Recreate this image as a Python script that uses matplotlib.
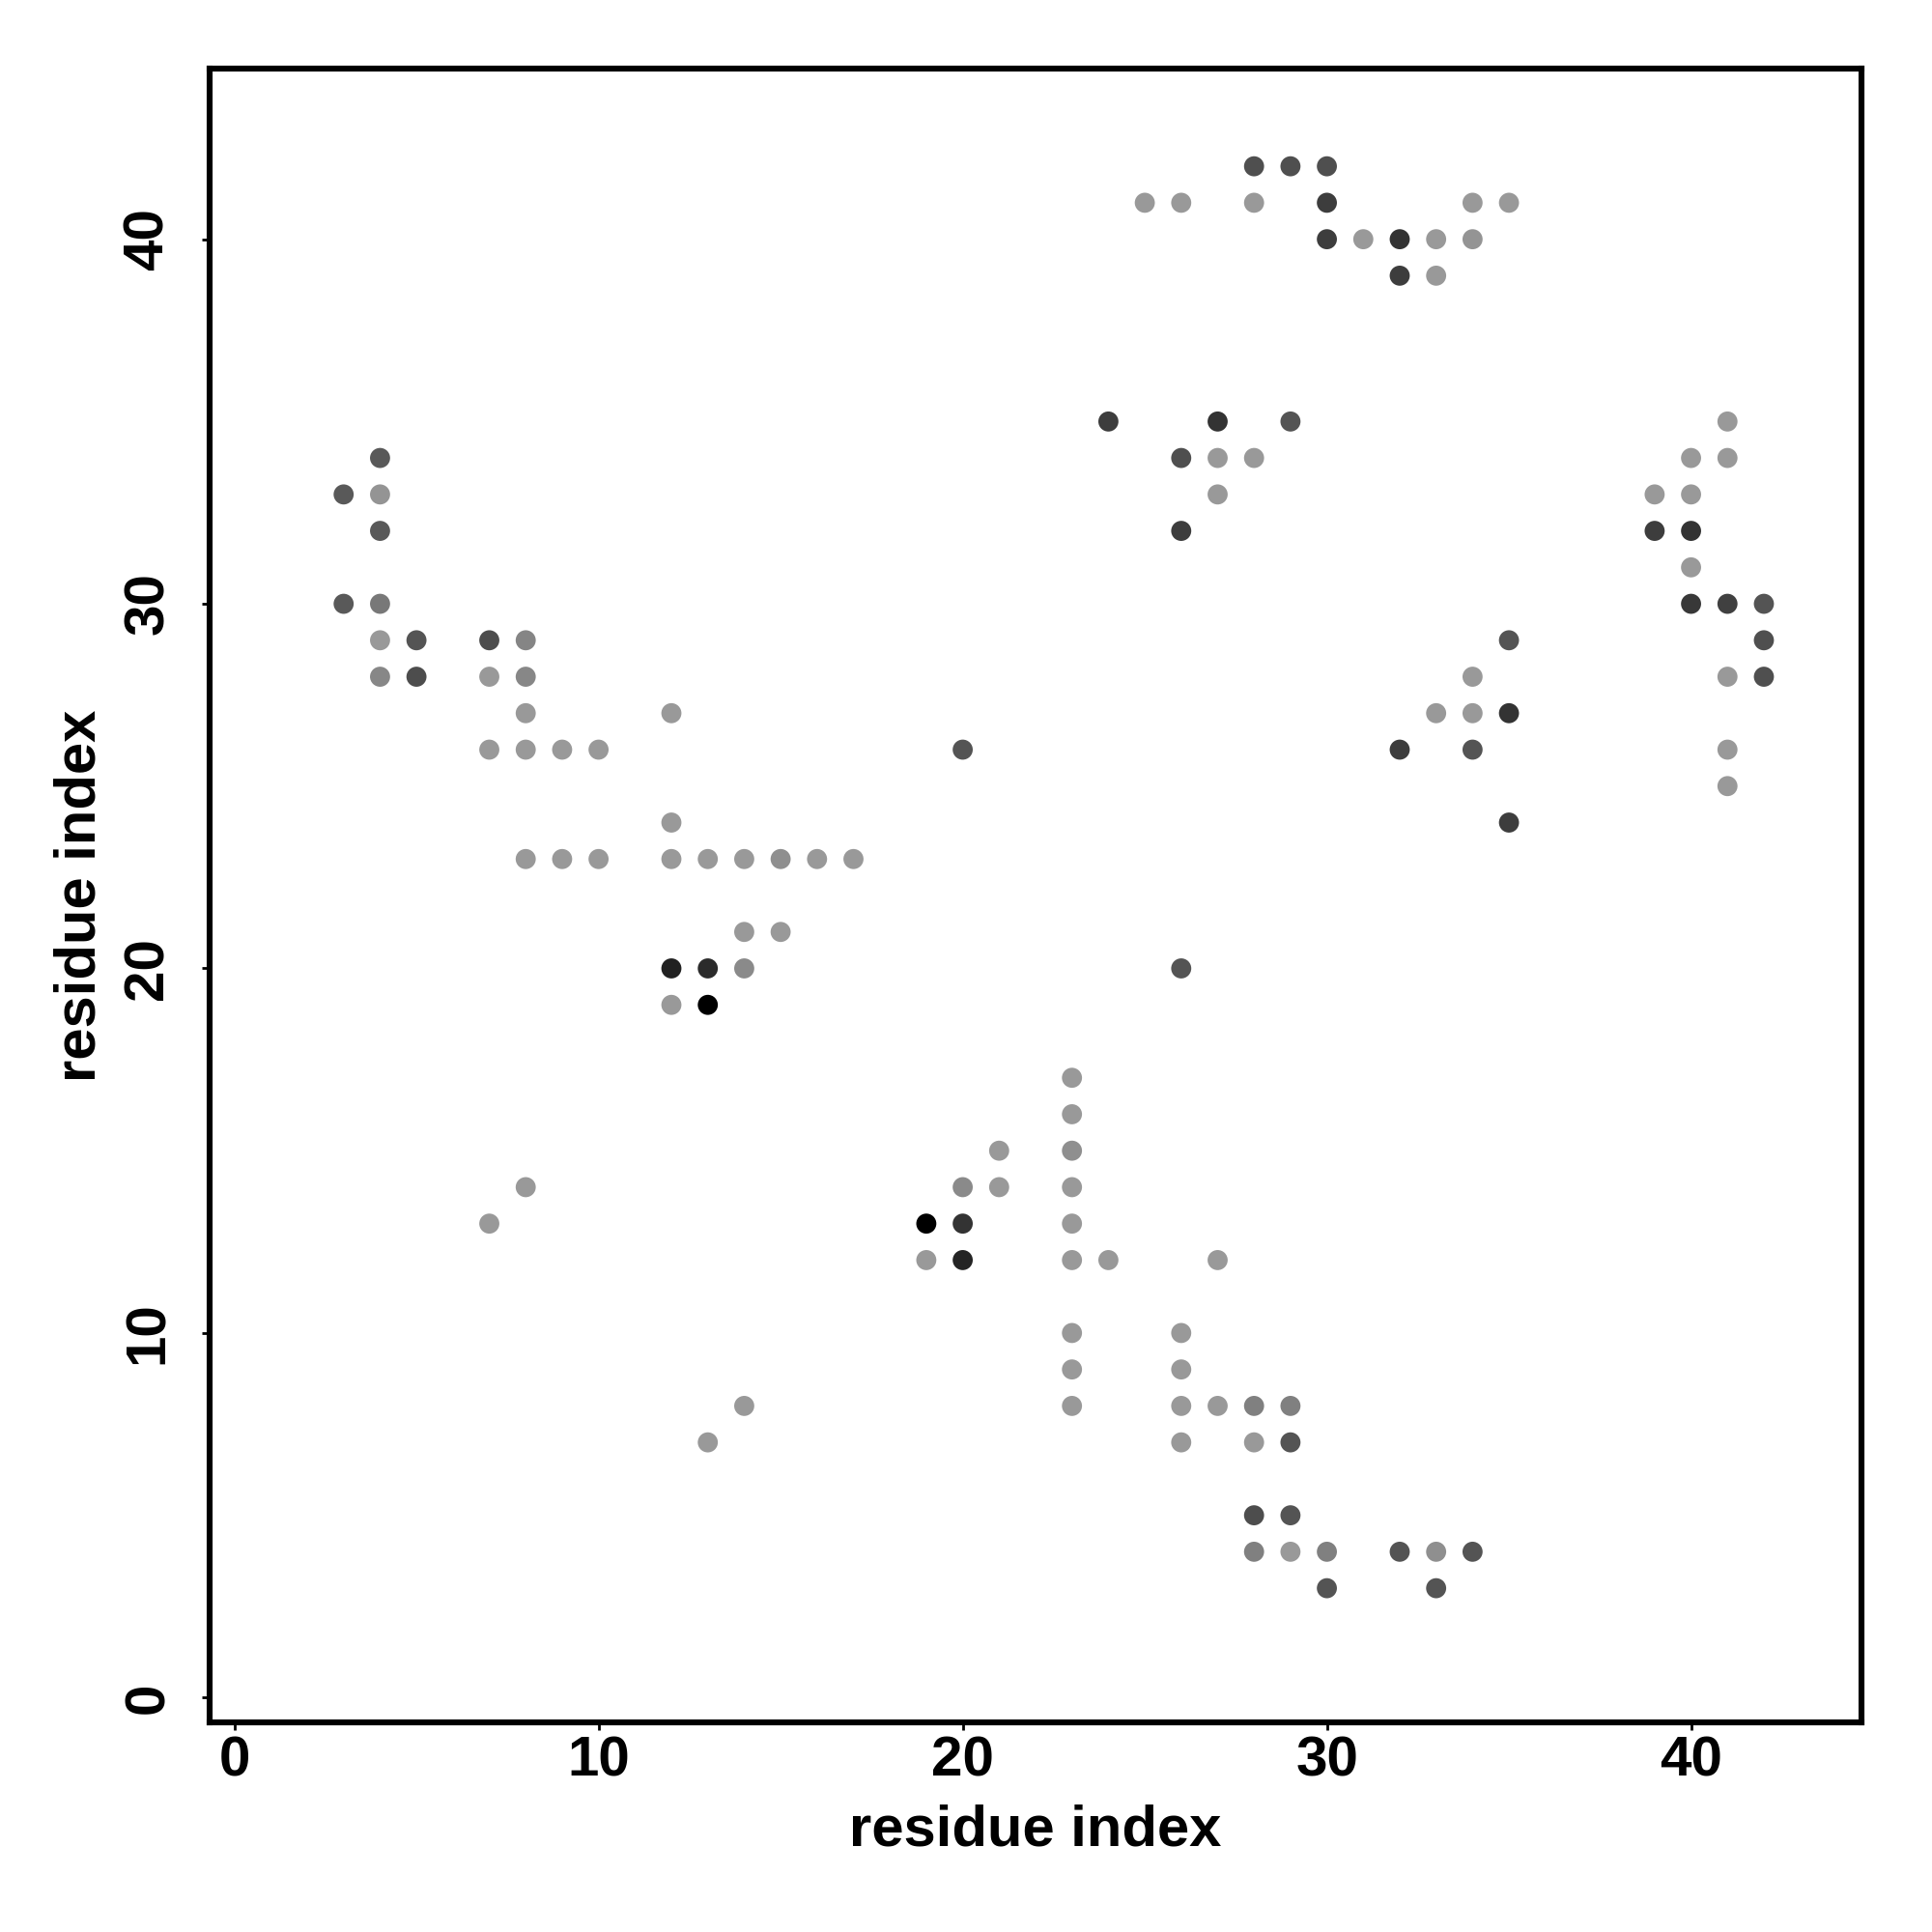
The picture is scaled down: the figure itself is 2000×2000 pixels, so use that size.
import matplotlib
matplotlib.use("Agg")
import matplotlib.pyplot as plt

# contact map: residue i (x), residue j (y), grey level of each contact (0=black, 1=white)
res_i = [28, 29, 30,
         25, 26, 28, 30, 34, 35,
         30, 31, 32, 33, 34,
         32, 33,
         24, 27, 29,
         26, 27, 28,
         27,
         26,
         35,
         34,
         33, 34, 35,
         32, 34,
         35,
         41,
         40, 41,
         39, 40,
         39, 40,
         40,
         40, 41, 42,
         42,
         41, 42,
         41,
         41,
         4,
         3, 4,
         4,
         3, 4,
         4, 5,
         7, 8,
         4, 5,
         7, 8,
         8, 12,
         7, 8, 9, 10,
         12,
         8, 9, 10, 12, 13, 14, 15, 16, 17,
         14, 15,
         12, 13, 14,
         12, 13,
         20, 26,
         7, 8, 13, 14,
         23, 23, 21, 23, 20, 21, 23,
         19, 20, 23,
         19, 20, 23, 24, 27,
         23, 26, 23, 26,
         23, 26, 27, 28, 29,
         26, 28, 29,
         28, 29,
         28, 29, 30, 32, 33, 34,
         30, 33]

res_j = [42, 42, 42,
         41, 41, 41, 41, 41, 41,
         40, 40, 40, 40, 40,
         39, 39,
         35, 35, 35,
         34, 34, 34,
         33,
         32,
         29,
         28,
         27, 27, 27,
         26, 26,
         24,
         35,
         34, 34,
         33, 33,
         32, 32,
         31,
         30, 30, 30,
         29,
         28, 28,
         26,
         25,
         34,
         33, 33,
         32,
         30, 30,
         29, 29,
         29, 29,
         28, 28,
         28, 28,
         27, 27,
         26, 26, 26, 26,
         24,
         23, 23, 23, 23, 23, 23, 23, 23, 23,
         21, 21,
         20, 20, 20,
         19, 19,
         26, 20,
         13, 14, 7, 8,
         17, 16, 15, 15, 14, 14, 14,
         13, 13, 13,
         12, 12, 12, 12, 12,
         10, 10, 9, 9,
         8, 8, 8, 8, 8,
         7, 7, 7,
         5, 5,
         4, 4, 4, 4, 4, 4,
         3, 3]

grey = [0.31, 0.31, 0.31,
        0.60, 0.60, 0.60, 0.24, 0.60, 0.60,
        0.24, 0.60, 0.20, 0.60, 0.58,
        0.24, 0.60,
        0.24, 0.20, 0.33,
        0.31, 0.60, 0.60,
        0.60,
        0.24,
        0.33,
        0.60,
        0.60, 0.60, 0.20,
        0.24, 0.33,
        0.24,
        0.60,
        0.60, 0.60,
        0.60, 0.60,
        0.24, 0.20,
        0.60,
        0.22, 0.25, 0.33,
        0.31,
        0.60, 0.31,
        0.60,
        0.60,
        0.35,
        0.35, 0.58,
        0.35,
        0.35, 0.47,
        0.60, 0.33,
        0.30, 0.52,
        0.53, 0.30,
        0.60, 0.53,
        0.60, 0.60,
        0.60, 0.60, 0.60, 0.60,
        0.60,
        0.60, 0.60, 0.60, 0.60, 0.60, 0.60, 0.56, 0.60, 0.60,
        0.60, 0.60,
        0.13, 0.17, 0.54,
        0.60, 0.00,
        0.33, 0.33,
        0.60, 0.60, 0.60, 0.60,
        0.60, 0.60, 0.60, 0.56, 0.54, 0.60, 0.60,
        0.00, 0.20, 0.60,
        0.60, 0.14, 0.60, 0.60, 0.60,
        0.60, 0.60, 0.60, 0.60,
        0.60, 0.60, 0.60, 0.50, 0.50,
        0.60, 0.60, 0.33,
        0.30, 0.33,
        0.50, 0.60, 0.50, 0.33, 0.56, 0.33,
        0.33, 0.33]

x_ticks = [0, 10, 20, 30, 40]
y_ticks = [0, 10, 20, 30, 40]
x_label = "residue index"
y_label = "residue index"

plt.rcParams['font.family'] = ['Liberation Sans', 'DejaVu Sans']

fig = plt.figure(figsize=(10, 10), dpi=200)
ax = fig.add_axes([0.1085, 0.1085, 0.855, 0.856])

colors = [(g, g, g) for g in grey]
ax.scatter(res_i, res_j, s=56, c=colors, edgecolors='none', zorder=3)

lo, hi = 1, 43
pad = 0.04 * (hi - lo)
ax.set_xlim(lo - pad, hi + pad)
ax.set_ylim(lo - pad, hi + pad)

ax.set_xticks(x_ticks)
ax.set_yticks(y_ticks)
ax.set_xticklabels([str(t) for t in x_ticks], fontsize=21, fontweight='bold')
ax.set_yticklabels([str(t) for t in y_ticks], fontsize=21, fontweight='bold',
                   rotation=90, va='center')
ax.tick_params(axis='x', direction='out', length=3, width=1.0, pad=2)
ax.tick_params(axis='y', direction='out', length=3, width=1.0, pad=10)

for sp in ax.spines.values():
    sp.set_linewidth(2.2)
    sp.set_color('black')

ax.set_xlabel(x_label, fontsize=21.5, fontweight='bold', labelpad=6)
ax.set_ylabel(y_label, fontsize=21.5, fontweight='bold', labelpad=6)

fig.savefig("out.png", dpi=200, facecolor='white')
